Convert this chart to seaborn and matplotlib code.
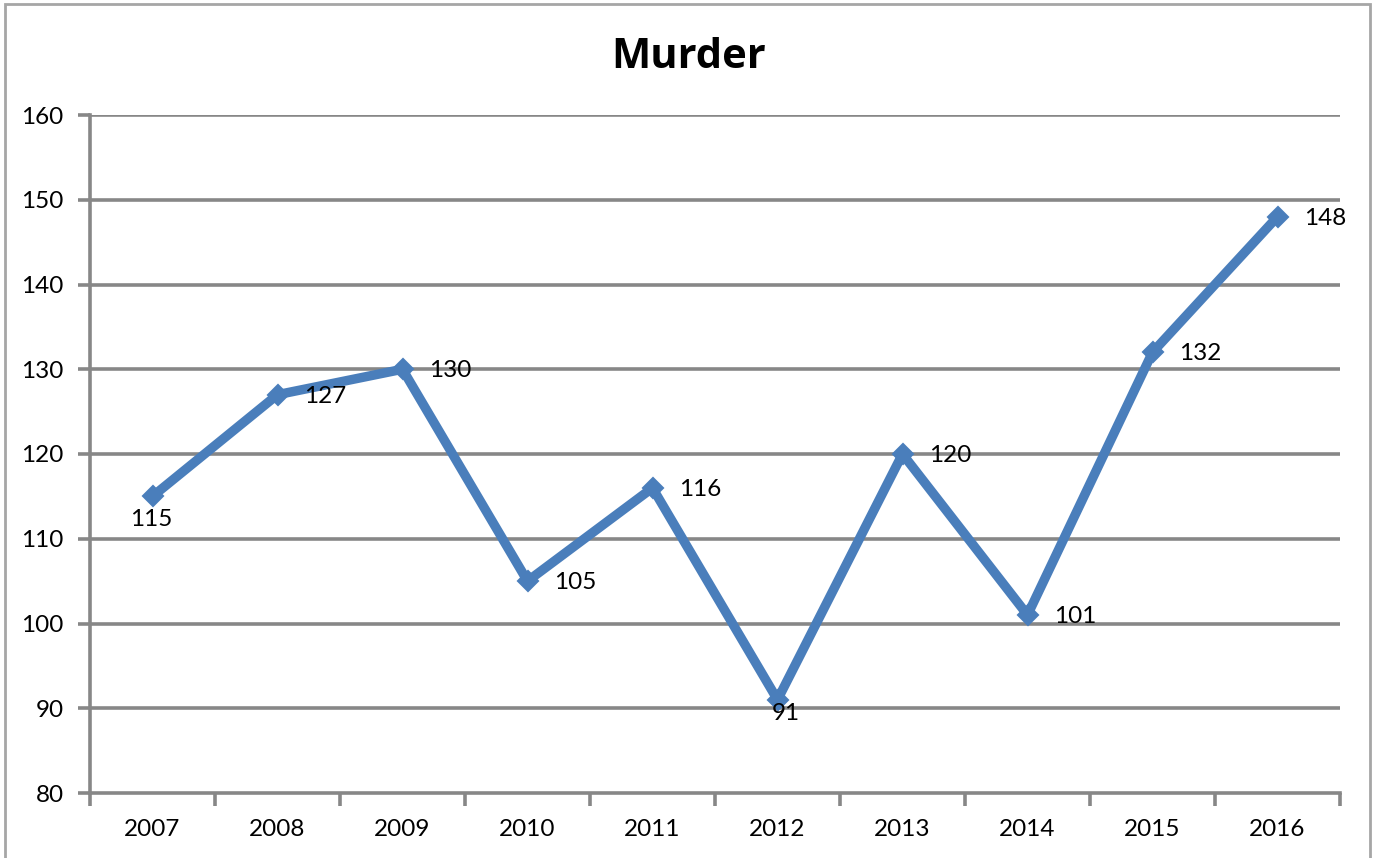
import matplotlib
matplotlib.use("Agg")
import matplotlib.pyplot as plt
import seaborn as sns
import pandas as pd
from matplotlib.patches import Rectangle
from matplotlib.ticker import FixedLocator, NullFormatter

years = ["2007", "2008", "2009", "2010", "2011", "2012", "2013", "2014", "2015", "2016"]
murders = [115, 127, 130, 105, 116, 91, 120, 101, 132, 148]
yticks = [80, 90, 100, 110, 120, 130, 140, 150, 160]
title = "Murder"
label_place = ["below", "right", "right", "right", "right", "below91", "right", "right", "right", "right"]

sns.set_style("white")
plt.rcParams["font.family"] = ["Lato", "DejaVu Sans"]
plt.rcParams["text.color"] = "black"

LINE = "#4A7EBB"
GRID = "#878787"
FS = 17.5

fig = plt.figure(figsize=(13.78, 8.58), dpi=100)
ax = fig.add_axes([90 / 1378, 1 - 793 / 858, (1340 - 90) / 1378, (793 - 115) / 858])

df = pd.DataFrame({"year": years, "murders": murders})
sns.lineplot(data=df, x="year", y="murders", ax=ax, color=LINE, linewidth=6.8,
             marker="D", markersize=10, markeredgecolor=LINE, markeredgewidth=1.5,
             sort=False)

ax.set_ylim(80, 160)
ax.set_xlim(-0.5, len(years) - 0.5)
ax.set_yticks(yticks)
ax.set_yticklabels([str(v) for v in yticks])

# x: boundary ticks (major, unlabeled) and centered labels (minor)
ax.xaxis.set_major_locator(FixedLocator([i - 0.5 for i in range(len(years) + 1)]))
ax.xaxis.set_major_formatter(NullFormatter())
ax.xaxis.set_minor_locator(FixedLocator(list(range(len(years)))))
ax.set_xticklabels(years, minor=True)
ax.tick_params(axis="x", which="major", length=9, width=2.6, color=GRID, direction="out")
ax.tick_params(axis="x", which="minor", length=0, pad=19, labelsize=FS, labelcolor="black")
ax.tick_params(axis="y", length=9, width=2.6, color=GRID, direction="out", pad=10,
               labelsize=FS, labelcolor="black")
ax.tick_params(bottom=True, left=True)

ax.set_xlabel("")
ax.set_ylabel("")
ax.grid(False)
for v in yticks[1:]:
    ax.axhline(v, color=GRID, linewidth=2.6, zorder=0)
for s in ["top", "right"]:
    ax.spines[s].set_visible(False)
for s in ["left", "bottom"]:
    ax.spines[s].set_color(GRID)
    ax.spines[s].set_linewidth(2.6)
    ax.spines[s].set_zorder(0.5)

for i, (v, p) in enumerate(zip(murders, label_place)):
    if p == "right":
        ax.annotate(str(v), (i, v), xytext=(19, -1), textcoords="offset points",
                    ha="left", va="center", fontsize=FS, color="black")
    elif p == "below":
        ax.annotate(str(v), (i, v), xytext=(-1, -9), textcoords="offset points",
                    ha="center", va="top", fontsize=FS, color="black")
    else:
        ax.annotate(str(v), (i, v), xytext=(6, -2), textcoords="offset points",
                    ha="center", va="top", fontsize=FS, color="black")

fig.text(689 / 1378, 1 - 57 / 858, title, ha="center", va="center", color="black",
         fontsize=30, fontweight="bold", family=["Open Sans", "DejaVu Sans"])

fig.patches.append(Rectangle((5 / 1378, -0.05), (1370 - 5) / 1378, 1.05 - 4 / 858,
                             transform=fig.transFigure, fill=False,
                             edgecolor="#A6A6A6", linewidth=2))

fig.savefig("out.png", dpi=100)
